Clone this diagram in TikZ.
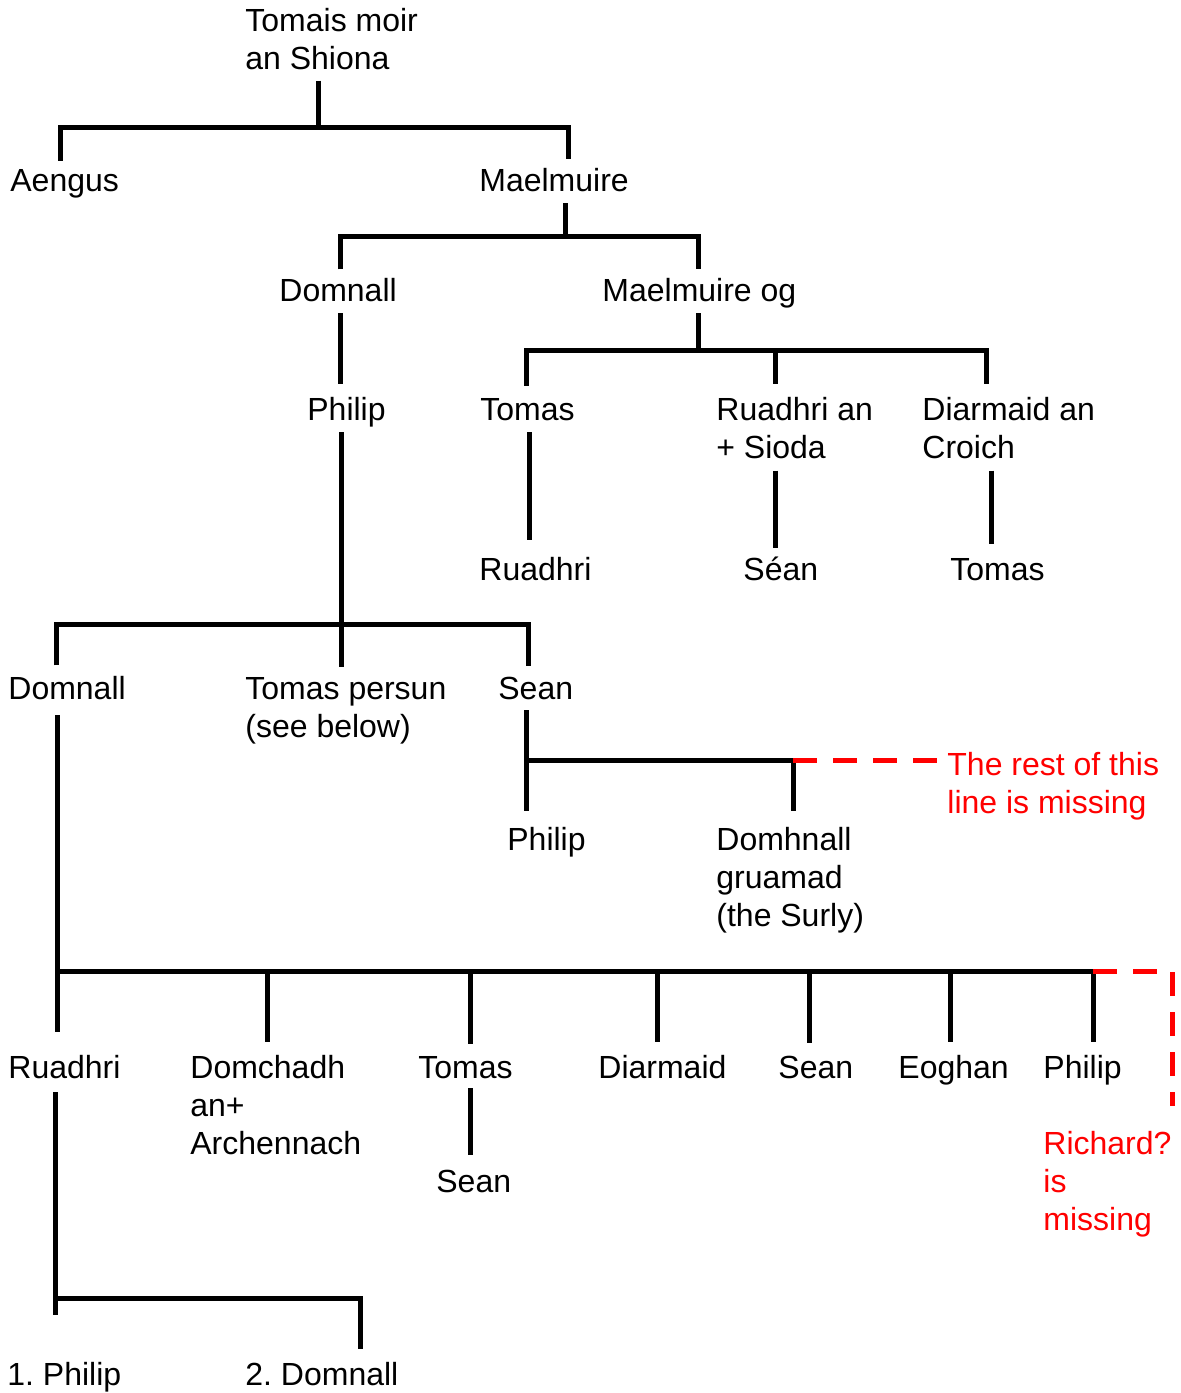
\documentclass[tikz,border=0pt]{standalone}
\usepackage{fontspec}
\setmainfont{Liberation Sans}
\usepackage{tikz}

\begin{document}
\begin{tikzpicture}[x=0.5pt,y=-0.5pt,
  who/.style={anchor=base west,inner sep=0pt,align=left,
    font=\fontsize{16}{19}\selectfont\frenchspacing},
  note/.style={who,text=red},
  kin/.style={line width=2.5pt},
  lost/.style={red,line width=2.5pt,dash pattern=on 12pt off 8pt}]
  \useasboundingbox (0,0) rectangle (1180,1393);
  % people (multi-line names sit on their last line)
  \node[who] (tomais) at (245,69) {Tomais moir\\an Shiona};
  \node[who] (aengus) at (10,191) {Aengus};
  \node[who] (maelmuire) at (479,191) {Maelmuire};
  \node[who] (domnall) at (279,301) {Domnall};
  \node[who] (maelog) at (602,301) {Maelmuire og};
  \node[who] (philip) at (307,420) {Philip};
  \node[who] (tomas) at (480,420) {Tomas};
  \node[who] (ruadhri) at (716,458) {Ruadhri an\\+ Sioda};
  \node[who] (diarmaid) at (922,458) {Diarmaid an\\Croich};
  \node[who] (ruadhriB) at (479,580) {Ruadhri};
  \node[who] (seanA) at (743,580) {Séan};
  \node[who] (tomasB) at (950,580) {Tomas};
  \node[who] (domnallB) at (8,699) {Domnall};
  \node[who] (persun) at (245,737) {Tomas persun\\(see below)};
  \node[who] (sean) at (498,699) {Sean};
  \node[who] (philipB) at (507,850) {Philip};
  \node[who] (domhnall) at (716,926) {Domhnall\\gruamad\\(the Surly)};
  \node[note] (restnote) at (947,813) {The rest of this\\line is missing};
  \node[who] (ruadhriC) at (8,1078) {Ruadhri};
  \node[who] (domchadh) at (190,1154) {Domchadh\\an+\\Archennach};
  \node[who] (tomasC) at (418,1078) {Tomas};
  \node[who] (diarmaidC) at (598,1078) {Diarmaid};
  \node[who] (seanC) at (778,1078) {Sean};
  \node[who] (eoghan) at (898,1078) {Eoghan};
  \node[who] (philipC) at (1043,1078) {Philip};
  \node[note] (richard) at (1043,1230) {Richard?\\is\\missing};
  \node[who] (seanD) at (436,1192) {Sean};
  \node[who] (philip1) at (7,1385) {1. Philip};
  \node[who] (domnall2) at (245,1385) {2. Domnall};
  % bars
  \coordinate (b1) at (318,127); \coordinate (b1l) at (60,127); \coordinate (b1r) at (568,127);
  \coordinate (b2) at (565,236); \coordinate (b2l) at (340,236); \coordinate (b2r) at (698,236);
  \coordinate (b3) at (698,350); \coordinate (b3l) at (526,350);
  \coordinate (b3m) at (775,350); \coordinate (b3r) at (986,350);
  \coordinate (tline) at (529,500); \coordinate (croich) at (991,500);
  \coordinate (b4) at (341,624); \coordinate (b4l) at (56,624); \coordinate (b4r) at (528,624);
  \coordinate (b6) at (526,760); \coordinate (b6r) at (793,760);
  \coordinate (b7) at (57,971); \coordinate (b7r) at (1093,971);
  \coordinate (k2) at (267,971); \coordinate (k3) at (470,971); \coordinate (k4) at (657,971);
  \coordinate (k5) at (809,971); \coordinate (k6) at (950,971);
  \coordinate (gapc) at (1172,971); \coordinate (gape) at (1172,1106);
  \coordinate (b8) at (55,1298); \coordinate (b8r) at (360,1298);

  \draw[kin,shorten <=5.5pt] (tomais.south -| b1) -- (b1);
  \draw[kin,shorten <=4pt,shorten >=4pt] (aengus.north -| b1l) -- (b1l) -- (b1r) -- (maelmuire.north -| b1r);
  \draw[kin,shorten <=6pt] (maelmuire.base -| b2) -- (b2);
  \draw[kin,shorten <=4pt,shorten >=4pt] (domnall.north -| b2l) -- (b2l) -- (b2r) -- (maelog.north -| b2r);
  \draw[kin,shorten <=6pt] (maelog.base -| b3) -- (b3);
  \draw[kin,shorten <=6pt,shorten >=6pt] (tomas.north -| b3l) -- (b3l) -- (b3r) -- (diarmaid.north -| b3r);
  \draw[kin,shorten >=6pt] (b3m) -- (ruadhri.north -| b3m);
  \draw[kin,shorten <=6pt,shorten >=6pt] (domnall.base -| b2l) -- (philip.north -| b2l);
  \draw[kin,shorten <=6pt,shorten >=8pt] (tomas.base -| tline) -- (ruadhriB.north -| tline);
  \draw[kin,shorten <=6pt,shorten >=4pt] (ruadhri.south -| b3m) -- (seanA.north -| b3m);
  \draw[kin,shorten <=6pt,shorten >=7pt] (diarmaid.south -| croich) -- (tomasB.north -| croich);
  \draw[kin,shorten <=6pt,shorten >=5pt] (philip.base -| b4) -- (persun.north -| b4);
  \draw[kin,shorten <=5pt,shorten >=5pt] (domnallB.north -| b4l) -- (b4l) -- (b4r) -- (sean.north -| b4r);
  \draw[kin,shorten <=5.5pt,shorten >=7.5pt] (sean.base -| b6) -- (philipB.north -| b6);
  \draw[kin,shorten >=7.5pt] (b6) -- (b6r) -- (domhnall.north -| b6r);
  \draw[lost] (b6r) -- (restnote.west |- b6r);
  \draw[kin,shorten <=8pt,shorten >=11pt] (domnallB.base -| b7) -- (ruadhriC.north -| b7);
  \draw[kin,shorten >=6pt] (b7) -- (b7r) -- (philipC.north -| b7r);
  \foreach \k/\who in {k2/domchadh,k3/tomasC,k4/diarmaidC,k5/seanC,k6/eoghan}
    \draw[kin,shorten >=6pt] (\k) -- (\who.north -| \k);
  \draw[lost] (b7r) -- (gapc) -- (gape);
  \draw[kin,shorten <=5pt,shorten >=7pt] (tomasC.base -| k3) -- (seanD.north -| k3);
  \draw[kin,shorten <=7pt,shorten >=23pt] (ruadhriC.base -| b8) -- (philip1.north -| b8);
  \draw[kin,shorten >=6pt] (b8) -- (b8r) -- (domnall2.north -| b8r);
\end{tikzpicture}
\end{document}
